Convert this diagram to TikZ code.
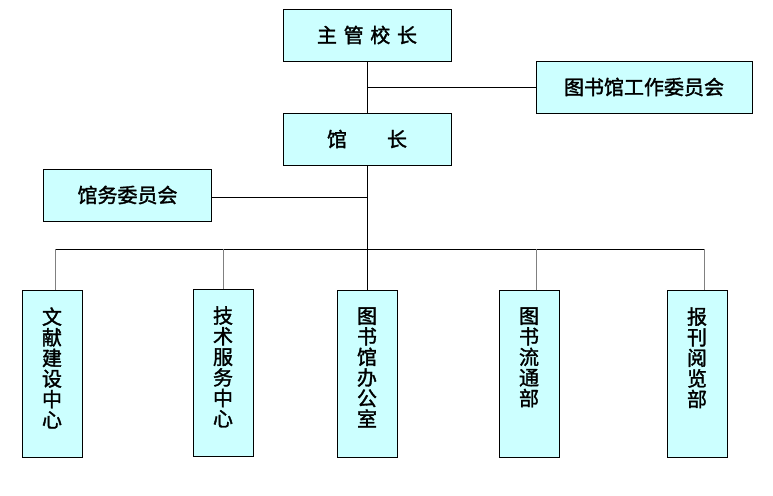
\documentclass[tikz,border=0pt]{standalone}
\usepackage{fontspec}
\newfontfamily\cjk{Noto Sans CJK SC}[BoldFont=*, BoldFeatures={FakeBold=1.6}]
\usetikzlibrary{positioning,calc}

\definecolor{boxcyan}{HTML}{CCFFFF}
\definecolor{linkgray}{HTML}{808080}

% vertical text, starting at the top of its box
\newcommand{\vlabel}[1]{\begin{minipage}[c][133pt][t]{30pt}\centering #1\end{minipage}}

\tikzset{
	orgbox/.style={draw=black, fill=boxcyan, thick, inner sep=0pt,
		font=\cjk\bfseries\fontsize{20}{20.6}\selectfont},
	widebox/.style={orgbox, minimum width=168pt, minimum height=52pt},
	tallbox/.style={orgbox, minimum width=60pt, minimum height=167pt,
		align=center, anchor=north},
	link/.style={draw=black, semithick},
	droplink/.style={draw=linkgray, thick}
}

\begin{document}
\begin{tikzpicture}[x=1pt,y=-1pt]
	\useasboundingbox (0,0) rectangle (773,495);
	
	% Top of the chart
	\node[widebox] (principal) at (367,35) {主\,\,管\,\,校\,\,长};
	\node[widebox, minimum width=216pt] (libcommittee) at (644,87) {图书馆工作委员会};
	\node[widebox] (director) at (367,139) {馆\qquad 长};
	\node[widebox] (affairs) at (127.5,195) {馆务委员会};
	
	% Departments
	\node[tallbox] (dept1) at (52,290) {\vlabel{文\\献\\建\\设\\中\\心}};
	\node[tallbox] (dept2) at (223,289) {\vlabel{技\\术\\服\\务\\中\\心}};
	\node[tallbox] (dept3) at (367,290) {\vlabel{图\\书\\馆\\办\\公\\室}};
	\node[tallbox] (dept4) at (529,290) {\vlabel{图\\书\\流\\通\\部}};
	\node[tallbox] (dept5) at (697,290) {\vlabel{报\\刊\\阅\\览\\部}};
	
	% Bus line
	\coordinate (bus1) at (55,249);
	\coordinate (bus2) at (223,249);
	\coordinate (bus3) at (367,249);
	\coordinate (bus4) at (536,249);
	\coordinate (bus5) at (704,249);
	
	\draw[link] (principal) -- (director);
	\draw[link] (principal.south |- libcommittee.west) -- (libcommittee.west);
	\draw[link] (director) -- (bus3);
	\draw[link] (affairs.east) ++(0,2) -- (director.south |- 0,197);
	\draw[link] (bus1) -- (bus5);
	
	% Drops to the departments
	\draw[droplink] (bus1) -- (bus1 |- dept1.north);
	\draw[droplink] (bus2) -- (dept2.north);
	\draw[link] (bus3) -- (dept3.north);
	\draw[droplink] (bus4) -- (bus4 |- dept4.north);
	\draw[droplink] (bus5) -- (bus5 |- dept5.north);
\end{tikzpicture}
\end{document}
